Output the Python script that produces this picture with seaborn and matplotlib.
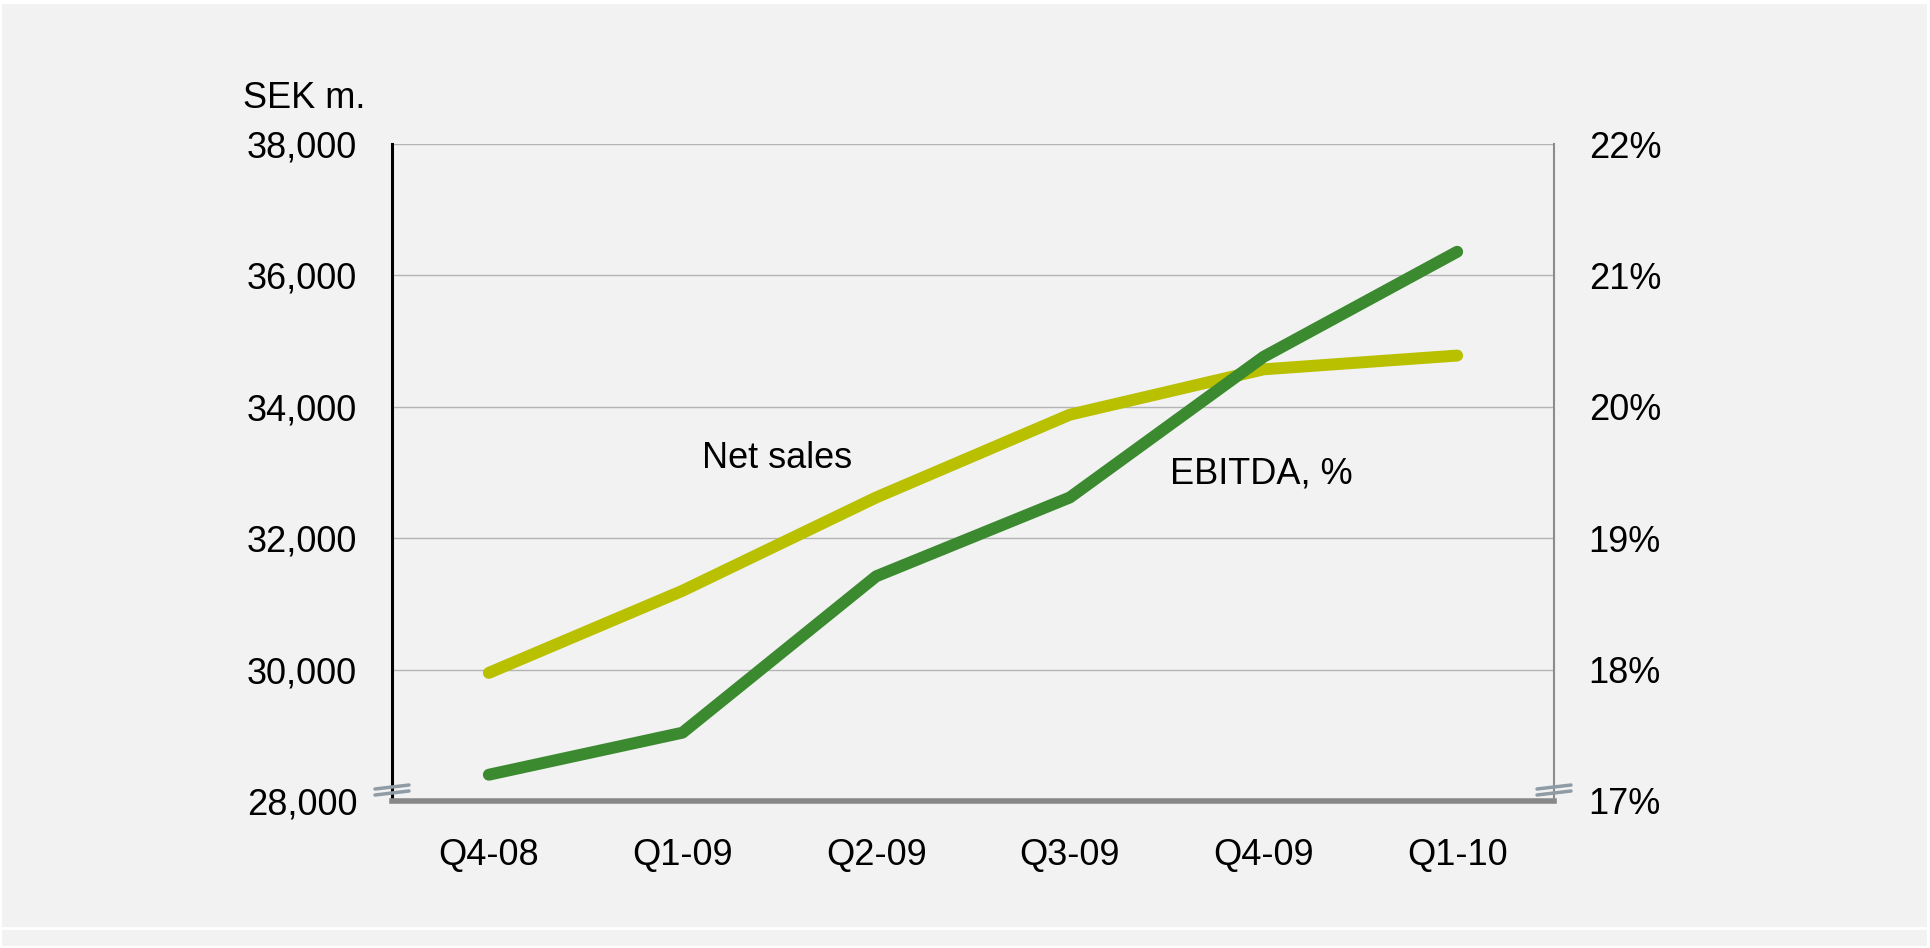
import matplotlib
matplotlib.use("Agg")
import matplotlib.pyplot as plt
import seaborn as sns
import pandas as pd
from matplotlib.patches import Rectangle
from matplotlib.lines import Line2D
from matplotlib.ticker import FuncFormatter

quarters = ["Q4-08", "Q1-09", "Q2-09", "Q3-09", "Q4-09", "Q1-10"]
net_sales = [29950, 31200, 32620, 33880, 34570, 34780]
ebitda_pct = [17.20, 17.52, 18.71, 19.31, 20.38, 21.18]
left_ticks = [28000, 30000, 32000, 34000, 36000, 38000]
right_ticks = [17, 18, 19, 20, 21, 22]

sns.set_theme(style="white")
plt.rcParams["font.family"] = ["Liberation Sans", "DejaVu Sans"]
plt.rcParams["text.color"] = "black"

BG = "#f2f2f2"
W, H = 1930, 948
FS = 26
LW = 8.6
fig = plt.figure(figsize=(W / 100, H / 100), dpi=100)
fig.patch.set_facecolor("white")
fig.patches.append(Rectangle((2 / W, 2 / H), 1925 / W, 942 / H, transform=fig.transFigure,
                             facecolor=BG, edgecolor="none", zorder=-10))
fig.lines.append(Line2D([2 / W, 1927 / W], [1 - 928 / H, 1 - 928 / H], transform=fig.transFigure,
                        color="white", lw=2, zorder=-5))

left, right, top, bottom = 392, 1554, 144, 801
ax = fig.add_axes([left / W, 1 - bottom / H, (right - left) / W, (bottom - top) / H])
ax.set_facecolor(BG)
ax2 = ax.twinx()

df = pd.DataFrame({"x": range(len(quarters)), "net": net_sales, "ebitda": ebitda_pct})

sns.lineplot(data=df, x="x", y="net", ax=ax, color="#b8c000", linewidth=LW,
             solid_capstyle="round", solid_joinstyle="round", zorder=3)
sns.lineplot(data=df, x="x", y="ebitda", ax=ax2, color="#3b8a2f", linewidth=LW,
             solid_capstyle="round", solid_joinstyle="round", zorder=4)
for a in (ax, ax2):
    for ln in a.get_lines():
        ln.set_linewidth(LW)

ax.set_xlim(-0.5, len(quarters) - 0.5)
ax.set_ylim(28000, 38000)
ax2.set_ylim(17, 22)

ax.set_yticks(left_ticks)
ax.yaxis.set_major_formatter(FuncFormatter(lambda v, p: f"{int(v):,}"))
ax2.set_yticks(right_ticks)
ax2.set_yticklabels([f"{t}%" for t in right_ticks])
ax.set_xticks(range(len(quarters)))
ax.set_xticklabels(quarters)

for t in left_ticks[1:]:
    ax.axhline(t, color="#b4b4b4", lw=1.0, zorder=1)

ax.tick_params(axis="y", length=0, pad=25, labelsize=FS, labelcolor="black")
ax.tick_params(axis="x", length=0, pad=27, labelsize=FS, labelcolor="black")
ax2.tick_params(axis="y", length=0, pad=25, labelsize=FS, labelcolor="black")
ax.set_xlabel("")
ax.set_ylabel("")
ax2.set_ylabel("")
ax.grid(False)
ax2.grid(False)

for a in (ax, ax2):
    for s in a.spines.values():
        s.set_visible(False)
ax.spines["left"].set_visible(True)
ax.spines["left"].set_color("black")
ax.spines["left"].set_linewidth(2.2)
ax.spines["bottom"].set_visible(True)
ax.spines["bottom"].set_color("#888888")
ax.spines["bottom"].set_linewidth(4)
ax2.spines["right"].set_visible(True)
ax2.spines["right"].set_color("#8c8c8c")
ax2.spines["right"].set_linewidth(1.5)

# axis break marks
for xp in (left, right):
    for dy in (0, 6):
        x0, x1 = (xp - 17) / W, (xp + 17) / W
        y0 = 1 - (bottom - 6 - dy) / H
        fig.lines.append(Line2D([x0, x1], [y0, y0 + 4 / H], transform=fig.transFigure,
                                color="#8f9ca6", lw=2.5, zorder=10))

fig.text(304 / W, 1 - 98 / H, "SEK m.", fontsize=FS, ha="center", va="center", color="black")
fig.text(777 / W, 1 - 459 / H, "Net sales", fontsize=FS, ha="center", va="center", color="black")
fig.text(1261 / W, 1 - 474 / H, "EBITDA, %", fontsize=FS, ha="center", va="center", color="black")

fig.savefig("out.png", dpi=100, facecolor=fig.get_facecolor())
